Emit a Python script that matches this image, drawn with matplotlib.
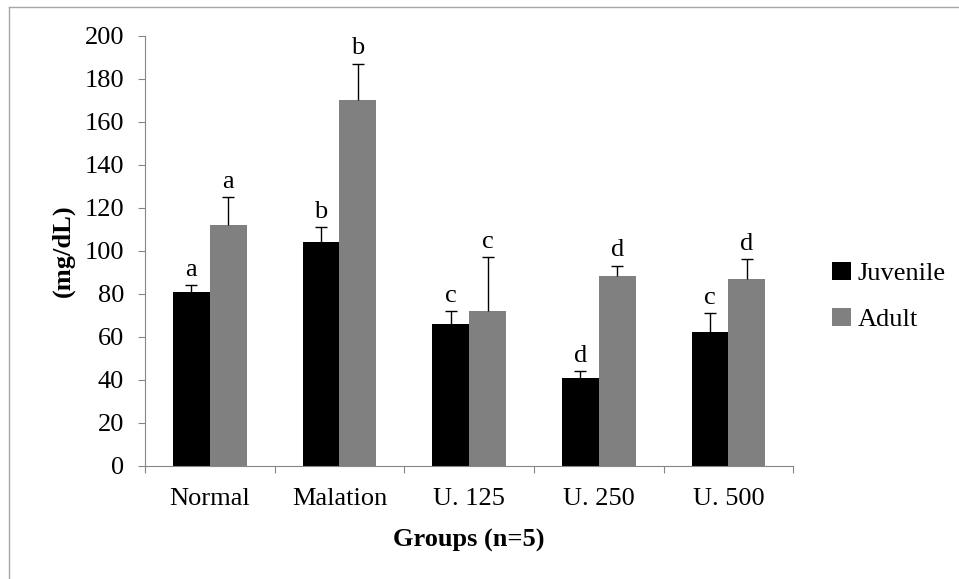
import matplotlib

matplotlib.use("Agg")
import matplotlib.pyplot as plt
import numpy as np
from matplotlib.lines import Line2D

plt.rcParams["font.family"] = ["Liberation Serif", "DejaVu Serif"]

groups = ["Normal", "Malation", "U. 125", "U. 250", "U. 500"]
juvenile = [81, 104, 66, 41, 62]
juvenile_err = [3, 7, 6, 3, 9]
adult = [112, 170, 72, 88, 87]
adult_err = [13, 17, 25, 5, 9]
juvenile_letters = ["a", "b", "c", "d", "c"]
adult_letters = ["a", "b", "c", "d", "d"]

AXIS_GRAY = "#868686"
FS = 19

fig = plt.figure(figsize=(9.59, 5.79), dpi=100)
ax = fig.add_axes([0.1512, 0.1957, 0.676, 0.7427])

x = np.arange(len(groups))
w = 0.285
err_kw = dict(ecolor="black", elinewidth=1.0, capsize=4.2, capthick=1.0)

containers = []
containers.append(ax.bar(x - w / 2, juvenile, w, color="black", label="Juvenile",
                         yerr=[np.zeros(len(x)), juvenile_err], error_kw=err_kw, zorder=2))
containers.append(ax.bar(x + w / 2, adult, w, color="#808080", label="Adult",
                         yerr=[np.zeros(len(x)), adult_err], error_kw=err_kw, zorder=2))

# only the upper caps are drawn in the original, hide the ones sitting on the bar tops
for cont, vals in zip(containers, (juvenile, adult)):
    for cap in cont.errorbar.lines[1]:
        if np.allclose(cap.get_ydata(), vals):
            cap.set_visible(False)

# significance letters just above the error caps
for xi, v, e, s in zip(x - w / 2, juvenile, juvenile_err, juvenile_letters):
    ax.text(xi, v + e + 2.0, s, ha="center", va="bottom", fontsize=FS)
for xi, v, e, s in zip(x + w / 2, adult, adult_err, adult_letters):
    ax.text(xi, v + e + 2.0, s, ha="center", va="bottom", fontsize=FS)

ax.set_xlim(-0.5, len(groups) - 0.5)
ax.set_ylim(0, 200)
ax.set_yticks(np.arange(0, 201, 20))

ax.set_xticks(np.arange(len(groups) + 1) - 0.5)
ax.set_xticklabels([])
ax.set_xticks(x, minor=True)
ax.set_xticklabels(groups, minor=True)
ax.tick_params(axis="x", which="major", length=5, width=0.8, color=AXIS_GRAY, direction="out")
ax.tick_params(axis="x", which="minor", length=0, pad=16, labelsize=FS)
ax.tick_params(axis="y", length=5, width=0.8, color=AXIS_GRAY, pad=10, labelsize=FS)

for side in ("top", "right"):
    ax.spines[side].set_visible(False)
for side in ("left", "bottom"):
    ax.spines[side].set_color(AXIS_GRAY)
    ax.spines[side].set_linewidth(0.8)

ax.set_xlabel("Groups (n=5)", fontsize=FS, fontweight="bold", labelpad=14)
ax.set_ylabel("(mg/dL)", fontsize=FS, fontweight="bold", labelpad=7)

fig.legend(loc="center left", bbox_to_anchor=(0.868, 0.488), frameon=False,
           fontsize=FS, handlelength=0.7, handleheight=0.7, handletextpad=0.25,
           labelspacing=0.85, borderpad=0, borderaxespad=0)

# chart-area border (only top and left edges visible in the crop)
fig.add_artist(Line2D([0.0099, 1.0], [0.9879, 0.9879], transform=fig.transFigure,
                      color="#a6a6a6", linewidth=1.0))
fig.add_artist(Line2D([0.0099, 0.0099], [0.0, 0.9879], transform=fig.transFigure,
                      color="#a6a6a6", linewidth=1.0))

fig.savefig("out.png", dpi=100)
